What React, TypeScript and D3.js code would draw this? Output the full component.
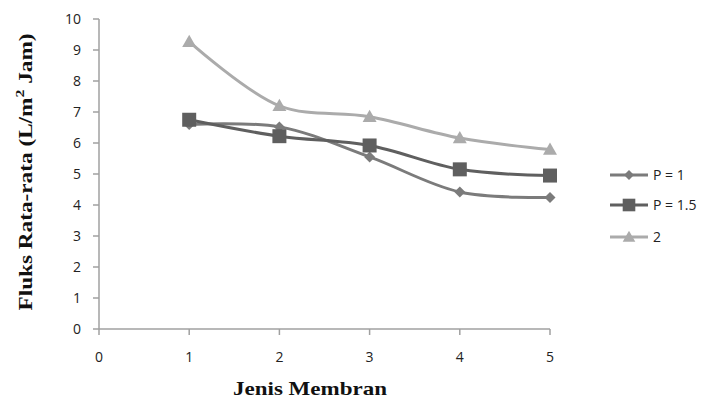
import React from "react";
import * as d3 from "d3";

const categories = [1, 2, 3, 4, 5];
const seriesP1 = [6.6, 6.52, 5.55, 4.42, 4.24];
const seriesP15 = [6.75, 6.22, 5.92, 5.15, 4.95];
const seriesP2 = [9.27, 7.2, 6.85, 6.16, 5.79];
const seriesNames = ["P = 1", "P = 1.5", "2"];
const xTicks = [0, 1, 2, 3, 4, 5];
const yTicks = [0, 1, 2, 3, 4, 5, 6, 7, 8, 9, 10];

const W = 707, H = 402;
const left = 99, right = 550, top = 19, bottom = 329;

export default function App() {
  const x = d3.scaleLinear().domain([0, 5]).range([left, right]);
  const y = d3.scaleLinear().domain([0, 10]).range([bottom, top]);
  const line = d3.line<number>().x((_, i) => x(categories[i])).y((d) => y(d)).curve(d3.curveCatmullRom.alpha(0.5));
  const series = [
    { name: seriesNames[0], values: seriesP1, color: "#7b7b7b", marker: "diamond" },
    { name: seriesNames[1], values: seriesP15, color: "#5f5f5f", marker: "square" },
    { name: seriesNames[2], values: seriesP2, color: "#ababab", marker: "triangle" },
  ];
  const marker = (type: string, cx: number, cy: number, color: string, s = 1) => {
    if (type === "diamond") {
      const r = 5.5 * s;
      return <path d={`M${cx},${cy - r}L${cx + r},${cy}L${cx},${cy + r}L${cx - r},${cy}Z`} fill={color} />;
    }
    if (type === "square") {
      const r = 7 * s;
      return <rect x={cx - r} y={cy - r} width={2 * r} height={2 * r} fill={color} />;
    }
    const r = 7 * s;
    return <path d={`M${cx},${cy - r}L${cx + r},${cy + r * 0.75}L${cx - r},${cy + r * 0.75}Z`} fill={color} />;
  };
  const tickFont = "'Open Sans', 'DejaVu Sans', sans-serif";
  const serif = "'Liberation Serif', 'DejaVu Serif', 'Times New Roman', serif";
  return (
    <svg width={W} height={H} style={{ position: "absolute", left: 0, top: 0, background: "#fff" }}>
      <rect width={W} height={H} fill="#fff" />
      <line x1={left} x2={left} y1={top} y2={bottom} stroke="#a0a0a0" strokeWidth={1.5} />
      <line x1={left} x2={right} y1={bottom} y2={bottom} stroke="#a0a0a0" strokeWidth={1.5} />
      {yTicks.map((t) => (
        <g key={"y" + t}>
          <line x1={left - 6} x2={left} y1={y(t)} y2={y(t)} stroke="#a0a0a0" strokeWidth={1.5} />
          <text x={81} y={y(t)} dy="0.35em" textAnchor="end" fontFamily={tickFont} fontSize={14} fill="#222">{t}</text>
        </g>
      ))}
      {xTicks.map((t) => (
        <g key={"x" + t}>
          <line x1={x(t)} x2={x(t)} y1={bottom} y2={bottom + 6} stroke="#a0a0a0" strokeWidth={1.5} />
          <text x={x(t)} y={357} dy="0.35em" textAnchor="middle" fontFamily={tickFont} fontSize={14} fill="#222">{t}</text>
        </g>
      ))}
      {series.map((s) => (
        <g key={s.name}>
          <path d={line(s.values) || ""} fill="none" stroke={s.color} strokeWidth={3} />
          {s.values.map((v, i) => (
            <g key={i}>{marker(s.marker, x(categories[i]), y(v), s.color)}</g>
          ))}
        </g>
      ))}
      {series.map((s, i) => {
        const ly = [175, 205, 237][i];
        return (
          <g key={"leg" + s.name}>
            <line x1={610} x2={648} y1={ly} y2={ly} stroke={s.color} strokeWidth={3} />
            {marker(s.marker, 629, ly, s.color, 0.9)}
            <text x={653} y={ly} dy="0.35em" fontFamily={tickFont} fontSize={14} fill="#222">{s.name}</text>
          </g>
        );
      })}
      <text transform="translate(32,172) rotate(-90)" textAnchor="middle" fontFamily={serif} fontWeight="bold" fontSize={19} fill="#111" textLength={277} lengthAdjust="spacingAndGlyphs">
        Fluks Rata-rata (L/m<tspan dy={-8} fontSize={13}>2</tspan><tspan dy={8}> Jam)</tspan>
      </text>
      <text x={310} y={395} textAnchor="middle" fontFamily={serif} fontWeight="bold" fontSize={19} fill="#111" textLength={154} lengthAdjust="spacingAndGlyphs">Jenis Membran</text>
    </svg>
  );
}
